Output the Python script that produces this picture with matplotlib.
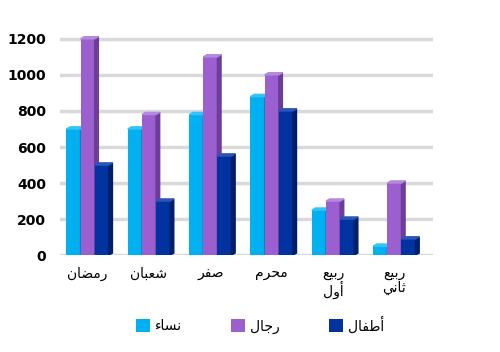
import numpy as np
import matplotlib
matplotlib.use("Agg")
import matplotlib.pyplot as plt
from matplotlib.patches import Polygon

# Arabic letters -> presentation forms (isolated, final, initial, medial)
FORMS = {
    'ء': ('\uFE80', None, None, None),
    'ا': ('\uFE8D', '\uFE8E', None, None),
    'أ': ('\uFE83', '\uFE84', None, None),
    'ب': ('\uFE8F', '\uFE90', '\uFE91', '\uFE92'),
    'ث': ('\uFE99', '\uFE9A', '\uFE9B', '\uFE9C'),
    'ج': ('\uFE9D', '\uFE9E', '\uFE9F', '\uFEA0'),
    'ح': ('\uFEA1', '\uFEA2', '\uFEA3', '\uFEA4'),
    'ر': ('\uFEAD', '\uFEAE', None, None),
    'س': ('\uFEB1', '\uFEB2', '\uFEB3', '\uFEB4'),
    'ش': ('\uFEB5', '\uFEB6', '\uFEB7', '\uFEB8'),
    'ص': ('\uFEB9', '\uFEBA', '\uFEBB', '\uFEBC'),
    'ض': ('\uFEBD', '\uFEBE', '\uFEBF', '\uFEC0'),
    'ط': ('\uFEC1', '\uFEC2', '\uFEC3', '\uFEC4'),
    'ع': ('\uFEC9', '\uFECA', '\uFECB', '\uFECC'),
    'ف': ('\uFED1', '\uFED2', '\uFED3', '\uFED4'),
    'ل': ('\uFEDD', '\uFEDE', '\uFEDF', '\uFEE0'),
    'م': ('\uFEE1', '\uFEE2', '\uFEE3', '\uFEE4'),
    'ن': ('\uFEE5', '\uFEE6', '\uFEE7', '\uFEE8'),
    'و': ('\uFEED', '\uFEEE', None, None),
    'ي': ('\uFEF1', '\uFEF2', '\uFEF3', '\uFEF4'),
}


def dual(c):
    return c in FORMS and FORMS[c][2] is not None


def joins(c):
    return c in FORMS and FORMS[c][1] is not None


def shape_word(w):
    out = []
    for i, c in enumerate(w):
        if c not in FORMS:
            out.append(c)
            continue
        prev = w[i - 1] if i > 0 else None
        nxt = w[i + 1] if i < len(w) - 1 else None
        cp = prev is not None and dual(prev) and joins(c)
        cn = nxt is not None and dual(c) and joins(nxt)
        iso, fin, ini, med = FORMS[c]
        if cp and cn:
            out.append(med)
        elif cp:
            out.append(fin)
        elif cn:
            out.append(ini)
        else:
            out.append(iso)
    return ''.join(out)[::-1]


def ar(s):
    lines = []
    for line in s.split('\n'):
        words = [shape_word(w) for w in line.split(' ')]
        lines.append(' '.join(words[::-1]))
    return '\n'.join(lines)


categories = ['رمضان', 'شعبان', 'صفر', 'محرم', 'ربيع\nأول', 'ربيع\nثاني']
series_names = ['نساء', 'رجال', 'أطفال']
women = [700, 700, 780, 880, 250, 50]
men = [1200, 780, 1100, 1000, 300, 400]
children = [500, 300, 550, 800, 200, 90]
colors = ['#00b0f0', '#9b5fcf', '#0033a0']
side_colors = ['#0088c0', '#6c3d99', '#001f6b']
top_colors = ['#33c4f5', '#b488dd', '#2a55b8']

fig = plt.figure(figsize=(5, 3.52), dpi=100)
ax = fig.add_axes([0.12, 0.275, 0.746, 0.63])

x = np.arange(len(categories))
w = 0.23
depth = 0.06
rise = 12

for k, (vals, name) in enumerate(zip([women, men, children], series_names)):
    pos = x + (k - 1) * w
    ax.bar(pos, vals, width=w, color=colors[k], label=ar(name), zorder=3 + k)
    for p, v in zip(pos, vals):
        r = p + w / 2
        l = p - w / 2
        side = Polygon([(r, 0), (r + depth, rise), (r + depth, v + rise), (r, v)],
                       closed=True, color=side_colors[k], zorder=3 + k)
        top = Polygon([(l, v), (l + depth, v + rise), (r + depth, v + rise), (r, v)],
                      closed=True, color=top_colors[k], zorder=3 + k)
        ax.add_patch(side)
        ax.add_patch(top)

ax.set_xlim(-0.45, 5.63)
ax.set_ylim(0, 1230)
ax.set_yticks(range(0, 1201, 200))
ax.set_yticklabels([str(v) for v in range(0, 1201, 200)], fontweight='bold', fontsize=10)
ax.set_xticks(x)
ax.set_xticklabels([ar(c) for c in categories], fontsize=10, family='DejaVu Sans',
                   linespacing=1.0)
ax.tick_params(length=0, pad=8)
ax.tick_params(axis='y', pad=10)
ax.grid(axis='y', color='#d9d9d9', linewidth=2.5, zorder=0)
for s in ax.spines.values():
    s.set_visible(False)

fig.legend(loc='center', bbox_to_anchor=(0.52, 0.077), ncol=3, frameon=False,
           fontsize=10, handlelength=1.0, handleheight=1.0, columnspacing=3.5,
           handletextpad=0.4)

fig.savefig('out.png', dpi=100)
